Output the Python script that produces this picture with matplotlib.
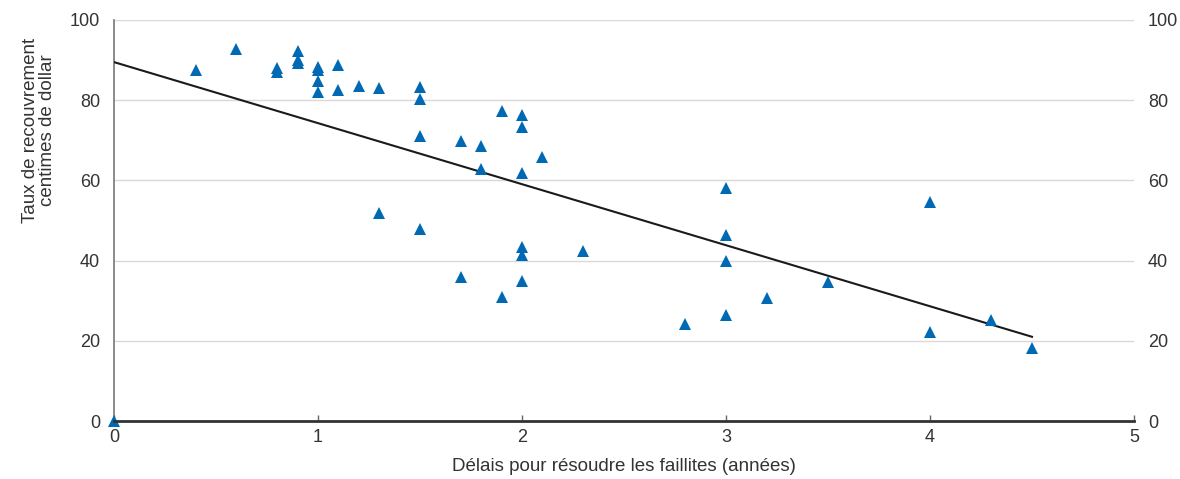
import matplotlib
matplotlib.use("Agg")
import matplotlib.pyplot as plt
import numpy as np

plt.rcParams['font.family'] = ['Liberation Sans', 'DejaVu Sans']

# Years needed to resolve bankruptcies vs. recovery rate (cents on the dollar)
delay_years = [0.0, 0.4, 0.6, 0.8, 0.8, 0.9, 0.9, 0.9, 1.0, 1.0, 1.0, 1.0,
               1.1, 1.1, 1.2, 1.3, 1.5, 1.5, 1.5, 1.7, 1.8, 1.9, 2.0, 2.0,
               2.1, 1.8, 2.0, 1.3, 1.5, 2.0, 2.0, 2.3, 1.7, 2.0, 1.9,
               3.0, 4.0, 3.0, 3.0, 3.5, 3.2, 2.8, 3.0, 4.0, 4.3, 4.5]
recovery_rate = [0.0, 87.6, 92.8, 88.0, 87.0, 92.3, 90.0, 89.2, 88.4, 87.5, 84.8, 82.0,
                 88.9, 82.5, 83.6, 83.1, 83.4, 80.2, 71.0, 69.8, 68.7, 77.4, 76.4, 73.2,
                 65.8, 62.8, 61.8, 51.8, 47.8, 43.5, 41.5, 42.5, 36.0, 35.0, 30.9,
                 58.1, 54.5, 46.4, 39.8, 34.7, 30.7, 24.3, 26.4, 22.3, 25.3, 18.3]

# Fitted trend line end points
trend_x = [0.0, 4.5]
trend_y = [89.5, 21.0]

x_ticks = [0, 1, 2, 3, 4, 5]
y_ticks = [0, 20, 40, 60, 80, 100]

fig = plt.figure(figsize=(11.8, 4.79), dpi=100)
ax = fig.add_axes([114 / 1180, 1 - 421 / 479, 1020 / 1180, 401 / 479])

ax.set_xlim(0, 5)
ax.set_ylim(0, 100)

ax.yaxis.grid(True, color='#d9d9d9', linewidth=1.0)
ax.set_axisbelow(True)

ax.plot(trend_x, trend_y, color='#1a1a1a', linewidth=1.5, zorder=3)
ax.plot(delay_years, recovery_rate, linestyle='none', marker='^', markersize=9,
        color='#0069b4', markeredgewidth=0, zorder=4, clip_on=False)

ax.set_xticks(x_ticks)
ax.set_yticks(y_ticks)
ax.tick_params(axis='x', direction='in', length=4, width=1, color='#666666',
               labelsize=13, labelcolor='#333333', pad=6)
ax.tick_params(axis='y', length=0, labelsize=13, labelcolor='#333333',
               labelright=True, pad=10)

for side in ('top', 'right'):
    ax.spines[side].set_visible(False)
ax.spines['left'].set_color('#777777')
ax.spines['left'].set_linewidth(1.2)
ax.spines['bottom'].set_color('#333333')
ax.spines['bottom'].set_linewidth(2)
ax.spines['bottom'].set_zorder(5)

ax.set_xlabel('Délais pour résoudre les faillites (années)', fontsize=13.5,
              color='#333333')
ax.xaxis.set_label_coords(0.5, -0.092)
ax.set_ylabel('Taux de recouvrement\ncentimes de dollar', fontsize=13.5,
              color='#333333', linespacing=1.0, multialignment='center')
ax.yaxis.set_label_coords(-0.057, 0.725)

fig.savefig('out.png', dpi=100)
